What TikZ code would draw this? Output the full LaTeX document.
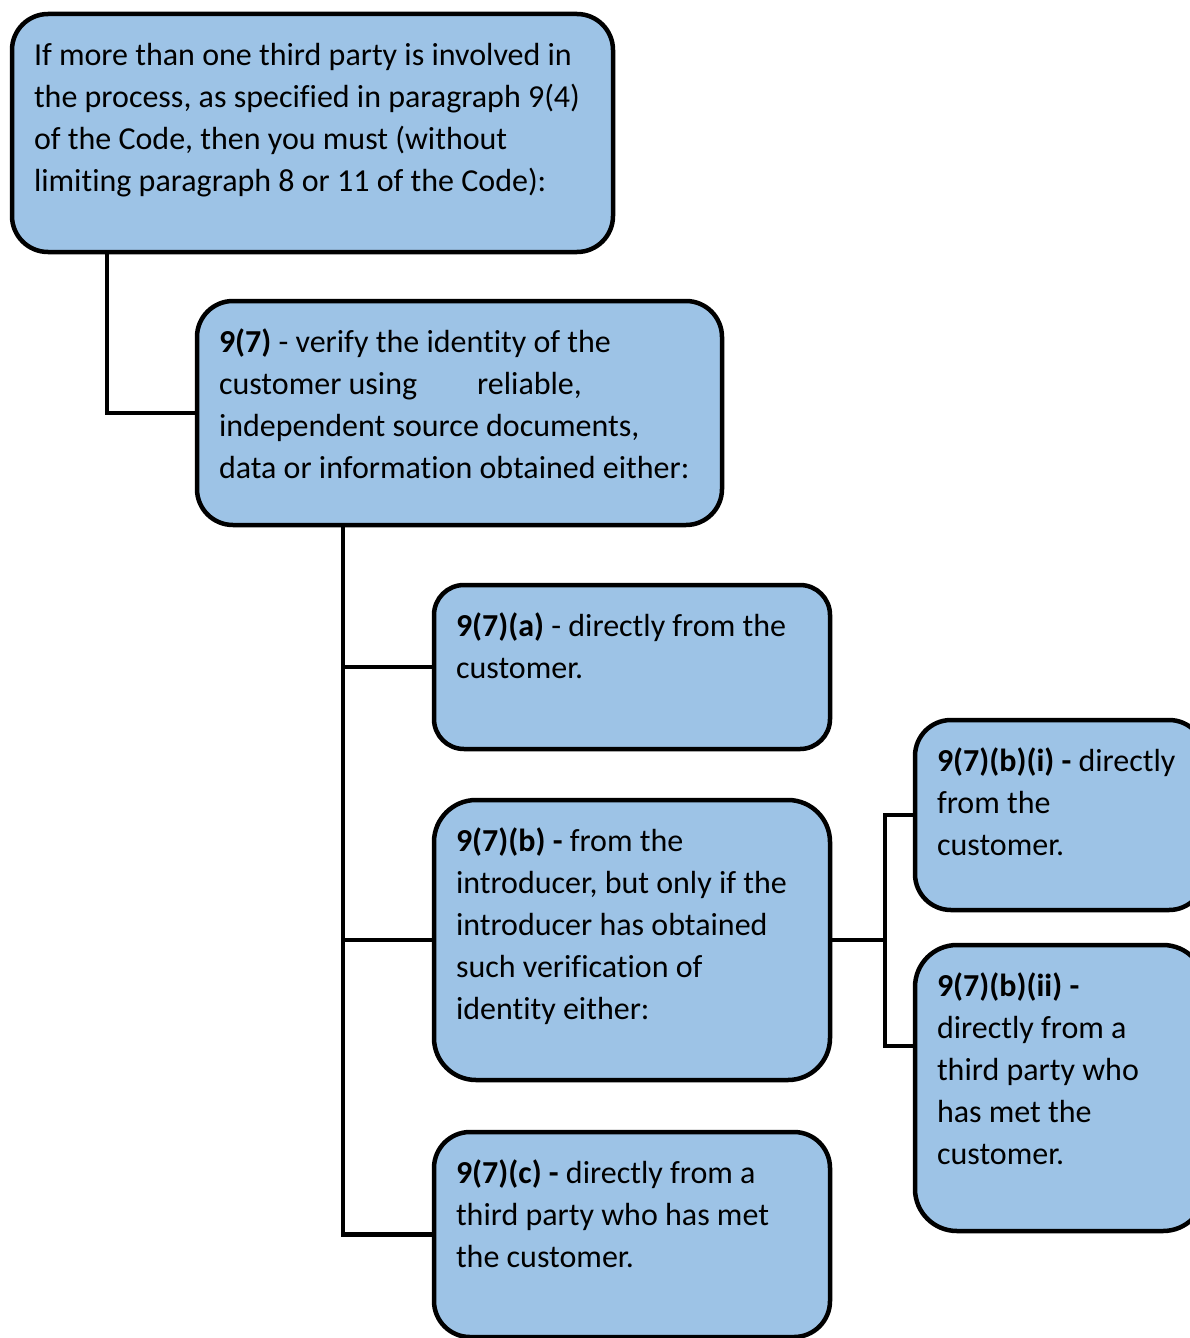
\documentclass[tikz,border=0pt]{standalone}
\usepackage{fontspec}
\setmainfont{Carlito}[Ligatures=NoCommon]
\usepackage{tikz}
\definecolor{boxblue}{RGB}{157,195,230}
% text block of a box: width and height of the box (pt), then the lines
\newcommand{\boxtxt}[3]{\parbox[t][\dimexpr#2pt-44pt\relax][t]{\dimexpr#1pt-44pt\relax}{\raggedright\strut #3}}

\begin{document}
\begin{tikzpicture}[
  x=1pt, y=1pt,
  box/.style={draw, line width=4.5pt, fill=boxblue, rounded corners=36pt, anchor=north west,
    inner sep=22pt, outer sep=0pt, font=\fontsize{32}{42}\selectfont},
  link/.style={line width=4.5pt}
]
\useasboundingbox (0,0) rectangle (1190,-1338);

\node[box] (intro) at (12,-14) {\boxtxt{601}{238}{If more than one third party is involved in\\
  the process, as specified in paragraph 9(4)\\
  of the Code, then you must (without\\
  limiting paragraph 8 or 11 of the Code):}};
\node[box] (verify) at (197,-301) {\boxtxt{525}{224}{\textbf{9(7)} - verify the identity of the\\
  customer using\hspace{60pt}reliable,\\
  independent source documents,\\
  data or information obtained either:}};
\node[box, rounded corners=30pt] (direct) at (434,-585) {\boxtxt{396}{164}{\textbf{9(7)(a)} - directly from the\\
  customer.}};
\node[box, rounded corners=42pt] (introducer) at (434,-800) {\boxtxt{396}{280}{\textbf{9(7)(b) -} from the\\
  introducer, but only if the\\
  introducer has obtained\\
  such verification of\\
  identity either:}};
\node[box] (thirdparty) at (434,-1132) {\boxtxt{396}{205}{\textbf{9(7)(c) -} directly from a\\
  third party who has met\\
  the customer.}};
\node[box] (introdirect) at (915,-720) {\boxtxt{290}{190}{\textbf{9(7)(b)(i) -} directly\\
  from the\\
  customer.}};
\node[box, rounded corners=42pt] (introthird) at (915,-945) {\boxtxt{290}{286}{\textbf{9(7)(b)(ii) -}\\
  directly from a\\
  third party who\\
  has met the\\
  customer.}};

% connectors
\draw[link] ([xshift=95pt]intro.south west) |- (verify.west);
\draw[link] ([xshift=146pt]verify.south west) coordinate (trunk) |- (thirdparty.west);
\draw[link] (trunk |- direct.west) -- (direct.west);
\draw[link] (trunk |- introducer.west) -- (introducer.west);
\draw[link] (introducer.east) -- ++(55pt,0) coordinate (fork);
\draw[link] (introdirect.west) -| (fork) |- ([yshift=-101pt]introthird.north west);
\end{tikzpicture}
\end{document}
